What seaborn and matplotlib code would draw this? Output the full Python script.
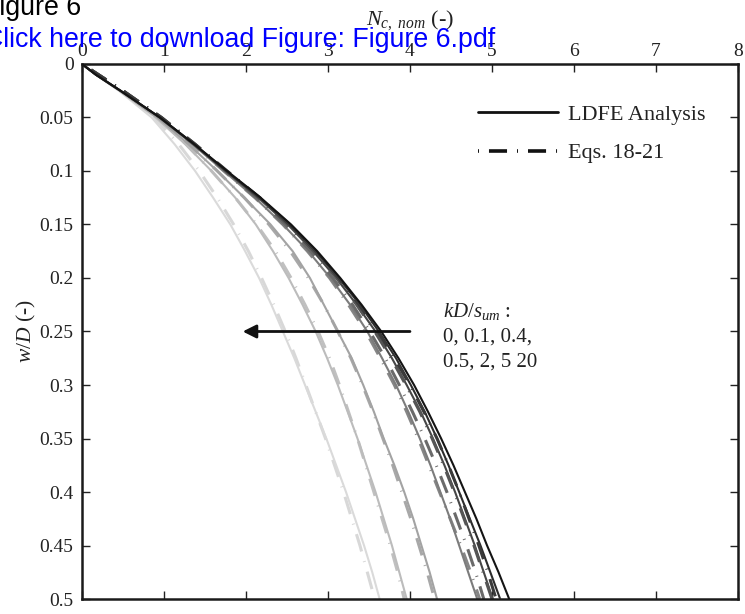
import numpy as np
import pandas as pd
import matplotlib
matplotlib.use("Agg")
import matplotlib.pyplot as plt
import seaborn as sns
from matplotlib.lines import Line2D

# ---------------- data ----------------
w_over_d = [0, 0.01, 0.025, 0.05, 0.075, 0.1, 0.125, 0.15, 0.175, 0.2, 0.225,
            0.25, 0.275, 0.3, 0.325, 0.35, 0.375, 0.4, 0.425, 0.45, 0.475, 0.5]

k_labels = ["0", "0.1", "0.4", "0.5", "2", "5", "20"]

ldfe_k0 = [0, 0.17, 0.47, 0.95, 1.37, 1.77, 2.18, 2.55, 2.87, 3.15, 3.41, 3.65, 3.86, 4.05, 4.22, 4.38, 4.53, 4.67, 4.81, 4.94, 5.08, 5.21]
ldfe_k01 = [0, 0.17, 0.47, 0.95, 1.37, 1.76, 2.17, 2.53, 2.85, 3.13, 3.39, 3.62, 3.83, 4.01, 4.18, 4.33, 4.47, 4.60, 4.73, 4.86, 4.98, 5.10]
ldfe_k04 = [0, 0.17, 0.47, 0.95, 1.36, 1.75, 2.15, 2.51, 2.82, 3.10, 3.35, 3.58, 3.78, 3.96, 4.13, 4.28, 4.42, 4.55, 4.67, 4.79, 4.90, 5.01]
ldfe_k05 = [0, 0.17, 0.47, 0.94, 1.35, 1.73, 2.11, 2.45, 2.76, 3.03, 3.27, 3.48, 3.66, 3.83, 3.98, 4.12, 4.25, 4.37, 4.49, 4.60, 4.71, 4.82]
ldfe_k2 = [0, 0.17, 0.46, 0.92, 1.30, 1.65, 1.98, 2.30, 2.57, 2.78, 2.95, 3.12, 3.29, 3.43, 3.56, 3.68, 3.81, 3.93, 4.04, 4.14, 4.24, 4.33]
ldfe_k5 = [0, 0.17, 0.46, 0.90, 1.26, 1.58, 1.87, 2.12, 2.33, 2.52, 2.69, 2.85, 2.99, 3.12, 3.24, 3.36, 3.47, 3.58, 3.68, 3.78, 3.87, 3.96]
ldfe_k20 = [0, 0.17, 0.45, 0.85, 1.13, 1.38, 1.60, 1.81, 1.99, 2.16, 2.31, 2.45, 2.59, 2.72, 2.85, 2.98, 3.10, 3.22, 3.33, 3.44, 3.54, 3.63]

eqs_k0 = [0, 0.20, 0.50, 0.97, 1.38, 1.77, 2.17, 2.53, 2.85, 3.13, 3.38, 3.61, 3.81, 4.00, 4.17, 4.33, 4.47, 4.60, 4.72, 4.84, 4.95, 5.05]
eqs_k01 = [0, 0.20, 0.50, 0.97, 1.38, 1.76, 2.16, 2.51, 2.83, 3.11, 3.35, 3.57, 3.77, 3.95, 4.12, 4.27, 4.41, 4.54, 4.66, 4.78, 4.89, 5.00]
eqs_k04 = [0, 0.20, 0.50, 0.96, 1.37, 1.75, 2.13, 2.48, 2.79, 3.06, 3.30, 3.51, 3.70, 3.87, 4.03, 4.18, 4.32, 4.45, 4.57, 4.69, 4.80, 4.90]
eqs_k05 = [0, 0.20, 0.50, 0.96, 1.36, 1.73, 2.11, 2.45, 2.75, 3.02, 3.25, 3.46, 3.64, 3.81, 3.96, 4.10, 4.23, 4.36, 4.49, 4.62, 4.74, 4.85]
eqs_k2 = [0, 0.20, 0.49, 0.94, 1.31, 1.65, 1.98, 2.28, 2.54, 2.76, 2.95, 3.12, 3.28, 3.42, 3.55, 3.67, 3.79, 3.90, 4.01, 4.11, 4.21, 4.30]
eqs_k5 = [0, 0.20, 0.49, 0.92, 1.27, 1.58, 1.87, 2.13, 2.36, 2.55, 2.72, 2.88, 3.02, 3.14, 3.25, 3.36, 3.46, 3.56, 3.66, 3.76, 3.85, 3.93]
eqs_k20 = [0, 0.20, 0.48, 0.88, 1.18, 1.43, 1.65, 1.85, 2.03, 2.19, 2.34, 2.48, 2.61, 2.73, 2.85, 2.97, 3.08, 3.19, 3.29, 3.39, 3.48, 3.57]

x_ticks = [0, 1, 2, 3, 4, 5, 6, 7, 8]
y_ticks = [0, 0.05, 0.1, 0.15, 0.2, 0.25, 0.3, 0.35, 0.4, 0.45, 0.5]
y_tick_labels = ["0", "0.05", "0.1", "0.15", "0.2", "0.25", "0.3", "0.35", "0.4", "0.45", "0.5"]

ldfe_series = [ldfe_k0, ldfe_k01, ldfe_k04, ldfe_k05, ldfe_k2, ldfe_k5, ldfe_k20]
eqs_series = [eqs_k0, eqs_k01, eqs_k04, eqs_k05, eqs_k2, eqs_k5, eqs_k20]

# ---------------- style ----------------
sns.set_theme(style="white")
plt.rcParams["font.family"] = ["Liberation Serif", "DejaVu Serif"]
plt.rcParams["mathtext.fontset"] = "custom"
plt.rcParams["mathtext.rm"] = "Liberation Serif"
plt.rcParams["mathtext.it"] = "Liberation Serif:italic"
plt.rcParams["lines.scale_dashes"] = False

solid_colors = ["#141414", "#2c2c2c", "#464646", "#7c7c7c", "#a3a3a3", "#bcbcbc", "#dadada"]
dash_colors = ["#3a3a3a", "#555555", "#6a6a6a", "#868686", "#a8a8a8", "#c0c0c0", "#d8d8d8"]
dash_pattern = (0, (0.7, 7.2, 13, 7.2))

rows_l, rows_e = [], []
for k, xs in zip(k_labels, ldfe_series):
    for w, n in zip(w_over_d, xs):
        rows_l.append({"k": k, "w": w, "N": n})
for k, xs in zip(k_labels, eqs_series):
    for w, n in zip(w_over_d, xs):
        rows_e.append({"k": k, "w": w, "N": n})
df_l = pd.DataFrame(rows_l)
df_e = pd.DataFrame(rows_e)

fig = plt.figure(figsize=(7.45, 6.14), dpi=100)
ax = fig.add_axes([0.110, 0.0244, 0.8806, 0.8714])

pal_l = dict(zip(k_labels, solid_colors))
pal_e = dict(zip(k_labels, dash_colors))

# light curves drawn first so darker ones sit on top
for i in reversed(range(len(k_labels))):
    k = k_labels[i]
    sns.lineplot(data=df_e[df_e["k"] == k], x="N", y="w", color=pal_e[k],
                 sort=False, estimator=None, orient="y", legend=False, ax=ax,
                 linewidth=2.2, linestyle=dash_pattern, dash_capstyle="butt",
                 zorder=2 + (6 - i) * 0.1)
    sns.lineplot(data=df_l[df_l["k"] == k], x="N", y="w", color=pal_l[k],
                 sort=False, estimator=None, orient="y", legend=False, ax=ax,
                 linewidth=1.5, zorder=2.05 + (6 - i) * 0.1)

ax.set_xlim(0, 8)
ax.set_ylim(0.5, 0)
ax.set_xticks(x_ticks)
ax.set_xticklabels([str(t) for t in x_ticks])
ax.set_yticks(y_ticks)
ax.set_yticklabels(y_tick_labels)
ax.xaxis.tick_top()
ax.xaxis.set_label_position("top")
ax.tick_params(axis="both", which="both", direction="in", length=6, width=1.0,
               labelsize=14, colors="#222222", labelcolor="#222222",
               top=True, bottom=True, left=True, right=True,
               labeltop=True, labelbottom=False, labelleft=True, labelright=False)
ax.tick_params(axis="x", pad=3)
ax.tick_params(axis="y", pad=6)
for s in ax.spines.values():
    s.set_visible(True)
    s.set_linewidth(1.8)
    s.set_color("#1a1a1a")

ax.set_xlabel(r"$N_{c,\ nom}$ (-)", fontsize=16, labelpad=13, color="#222222")
ax.set_ylabel(r"$w/D$ (-)", fontsize=15.5, labelpad=1, color="#222222")

handles = [Line2D([], [], color="#111111", lw=2.0),
           Line2D([], [], color="#111111", lw=2.6, linestyle=dash_pattern, dash_capstyle="butt")]
leg = ax.legend(handles, ["LDFE Analysis", "Eqs. 18-21"], frameon=False,
                loc="upper left", bbox_to_anchor=(478 / 745, 1 - 104 / 614),
                bbox_transform=fig.transFigure, borderpad=0, borderaxespad=0,
                handlelength=3.6, handletextpad=0.45, labelspacing=0.82,
                prop={"family": "Liberation Serif", "size": 16})
for t in leg.get_texts():
    t.set_color("#222222")

ax.annotate("", xy=(1.96, 0.25), xytext=(4.0, 0.25),
            arrowprops=dict(arrowstyle="-|>", color="#111111", lw=2.0,
                            mutation_scale=20, shrinkA=0, shrinkB=0))
ax.text(4.40, 0.231, r"$kD/s_{um}$ :", fontsize=15, color="#222222",
        ha="left", va="center")
ax.text(4.40, 0.255, "0, 0.1, 0.4,", fontsize=15, color="#222222",
        ha="left", va="center")
ax.text(4.40, 0.279, "0.5, 2, 5 20", fontsize=15, color="#222222",
        ha="left", va="center")

fig.text(-0.0225, 1 - 15 / 614, "Figure 6", fontsize=19.3, color="black",
         family="Liberation Sans", ha="left", va="baseline")
fig.text(-0.021, 1 - 47 / 614, "Click here to download Figure: Figure 6.pdf",
         fontsize=19.3, color="#0000ff", family="Liberation Sans",
         ha="left", va="baseline")

fig.savefig("out.png", dpi=100, facecolor="white")
